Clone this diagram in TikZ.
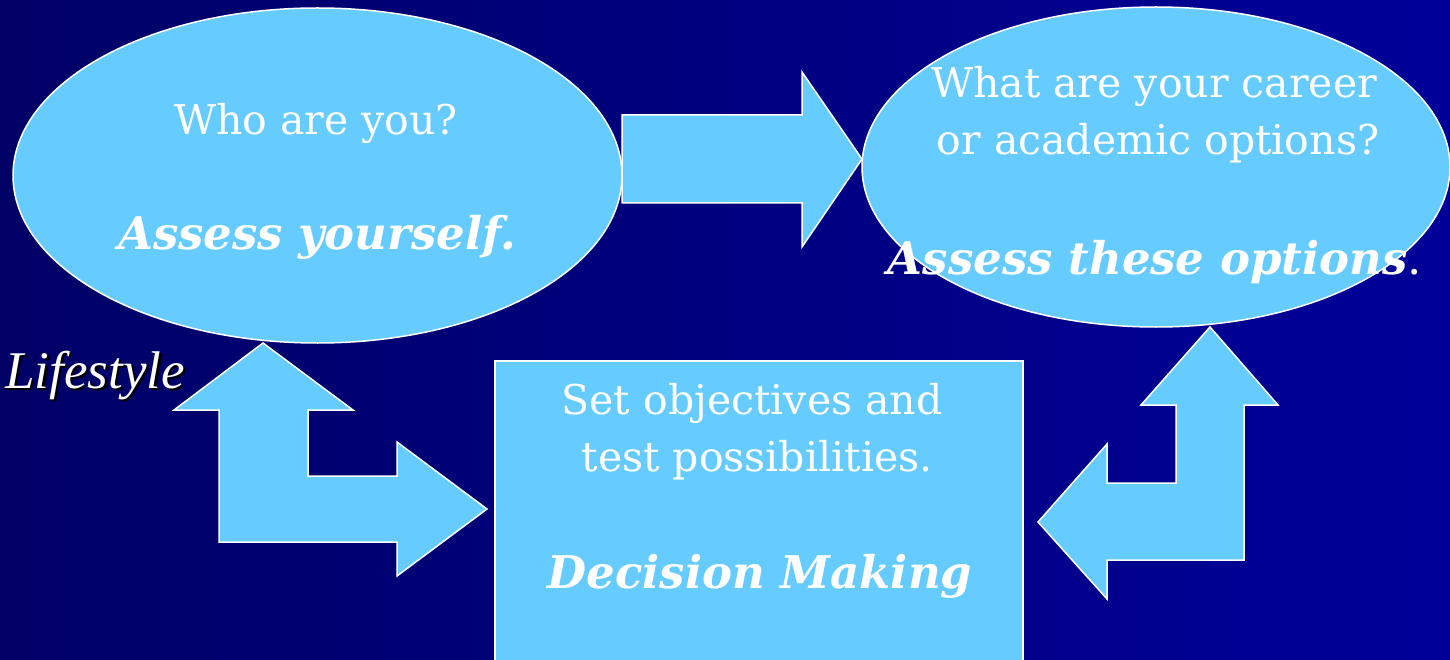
\documentclass[tikz,border=0pt]{standalone}
\usepackage{fontspec}
\setmainfont{DejaVu Serif}
\newfontfamily\lifefont{Liberation Serif}
\usetikzlibrary{shapes.geometric}
\definecolor{bgleft}{HTML}{000066}
\definecolor{bgright}{HTML}{000099}
\definecolor{sky}{HTML}{66CCFF}
\newcommand{\shadowtext}[1]{\makebox[0pt][l]{\hspace{2.5pt}\raisebox{-2.5pt}{\color{black}#1}}#1}
\tikzset{
  blob/.style={ellipse, fill=sky, draw=white, line width=1.5pt, inner sep=0pt},
  blockarrow/.style={fill=sky, draw=white, line width=1.5pt, line join=miter},
  plain/.style={text=white, anchor=base, inner sep=0pt, font=\fontsize{41}{41}\selectfont},
  strong/.style={text=white, anchor=base, inner sep=0pt, font=\fontsize{45}{45}\selectfont\bfseries\itshape},
}
\begin{document}
\begin{tikzpicture}[x=1pt,y=-1pt]
\useasboundingbox (0,0) rectangle (1450,660);
\shade[left color=bgleft, right color=bgright] (0,0) rectangle (1450,660);

% ellipses
\node[blob, minimum width=609, minimum height=335] (who) at (317.5,175.5) {};
\node[blob, minimum width=588, minimum height=320] (opts) at (1156,167) {};

% straight arrow between ellipses
\draw[blockarrow] (622,115) -- (802,115) -- (802,72) -- (862,159) -- (802,247) -- (802,203) -- (622,203) -- cycle;

% left bent arrow
\draw[blockarrow] (263,343) -- (353,410) -- (308,410) -- (308,476) -- (397,476) -- (397,442) -- (487,509)
  -- (397,576) -- (397,542) -- (219,542) -- (219,410) -- (174,410) -- cycle;

% right bent arrow
\draw[blockarrow] (1210,327) -- (1278,405) -- (1244,405) -- (1244,560) -- (1107,560) -- (1107,599) -- (1038,522)
  -- (1107,444) -- (1107,483) -- (1176,483) -- (1176,405) -- (1141,405) -- cycle;

% decision box
\node[fill=sky, draw=white, line width=1.5pt, minimum width=528, minimum height=320, inner sep=0pt, anchor=north west] (dec) at (494,360) {};

% texts
\node[plain] (t1) at (316,135) {Who are you?};
\node[strong] (t2) at (317,250) {Assess yourself.};
\node[plain] (t3) at (1154,98) {What are your career};
\node[plain] (t4) at (1158,155) {or academic options?};
\node[strong] (t5) at (1155,275) {Assess these options\normalfont.};
\node[plain] (t6) at (752,414) {Set objectives and};
\node[plain] (t7) at (757,471) {test possibilities.};
\node[strong] (t8) at (760,588) {Decision Making};

% Lifestyle with shadow
\node[text=white, anchor=base west, inner sep=0pt, font=\fontsize{53}{53}\selectfont\lifefont\itshape] (life) at (5,388) {\shadowtext{Lifestyle}};
\end{tikzpicture}
\end{document}
